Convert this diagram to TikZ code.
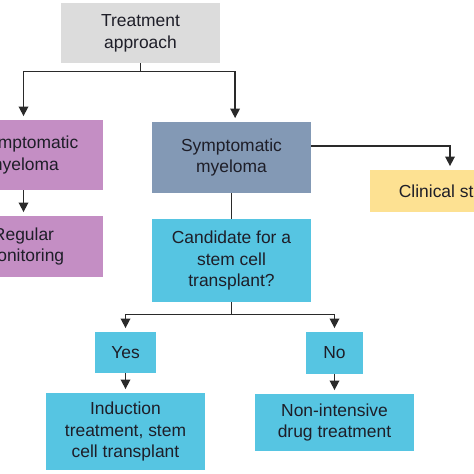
\documentclass[tikz,border=0pt]{standalone}
\usepackage{fontspec}
\setmainfont{Liberation Sans}
\usetikzlibrary{arrows.meta}
\definecolor{Grey}{HTML}{DCDCDC}
\definecolor{Lilac}{HTML}{C48EC4}
\definecolor{Slate}{HTML}{8399B5}
\definecolor{Sky}{HTML}{56C5E2}
\definecolor{Sand}{HTML}{FDE192}
\definecolor{Ink}{HTML}{1E1E28}
\definecolor{Wire}{HTML}{2A2A2A}
\tikzset{
  box/.style={inner sep=0pt, align=center, text=Ink, font=\fontsize{12.4}{15.6}\selectfont},
  wire/.style={draw=Wire, line width=1.1pt},
  arr/.style={wire, -{Triangle[width=0.24cm, length=0.24cm]}, shorten >=0.09cm}
}
\begin{document}
\begin{tikzpicture}[x=0.025cm, y=-0.025cm]%
\useasboundingbox (0,0) rectangle (474,474);%
\clip (0,0) rectangle (474,474);%
\node[box, fill=Grey, minimum width=3.975cm, minimum height=1.5cm] (treat) at (140.5, 33) {Treatment\\approach};%
\node[box, fill=Lilac, minimum width=3.975cm, minimum height=1.75cm] (asym) at (23.5, 155) {Asymptomatic\\myeloma};%
\node[box, fill=Slate, minimum width=3.975cm, minimum height=1.775cm] (symp) at (231.5, 157.5) {Symptomatic\\myeloma};%
\node[box, fill=Lilac, minimum width=3.975cm, minimum height=1.525cm] (regmon) at (23.5, 246.5) {Regular\\monitoring};%
\node[box, fill=Sand, minimum width=4.35cm, minimum height=1.05cm] (clin) at (457, 191) {Clinical studies};%
\node[box, fill=Sky, minimum width=3.975cm, minimum height=2.075cm] (cand) at (231.5, 260.5) {Candidate for a\\stem cell\\transplant?};%
\node[box, fill=Sky, minimum width=1.525cm, minimum height=1.025cm] (yes) at (125.5, 352.5) {Yes};%
\node[box, fill=Sky, minimum width=1.425cm, minimum height=1.05cm] (no) at (334.5, 353) {No};%
\node[box, fill=Sky, minimum width=3.975cm, minimum height=1.925cm] (induct) at (125.5, 431.5) {Induction\\treatment, stem\\cell transplant};%
\node[box, fill=Sky, minimum width=3.975cm, minimum height=1.425cm] (nonint) at (334.5, 422.5) {Non-intensive\\drug treatment};%
% connectors
\draw[wire] (treat.south) -- ++(0,8) coordinate (split1);%
\draw[arr] (split1) -| (asym.north);%
\draw[arr] (split1) -| ([xshift=0.09cm]symp.north);%
\draw[arr] (asym.south) -- (regmon.north);%
\draw[arr] ([yshift=0.29cm]symp.east) -| ([xshift=-0.175cm]clin.north);%
\draw[wire] (symp.south) -- (cand.north);%
\draw[wire] (cand.south) -- ++(0,12) coordinate (split2);%
\draw[arr] (split2) -| (yes.north);%
\draw[arr] (split2) -| (no.north);%
\draw[arr] (yes.south) -- (induct.north);%
\draw[arr] (no.south) -- (nonint.north);%
\end{tikzpicture}
\end{document}
